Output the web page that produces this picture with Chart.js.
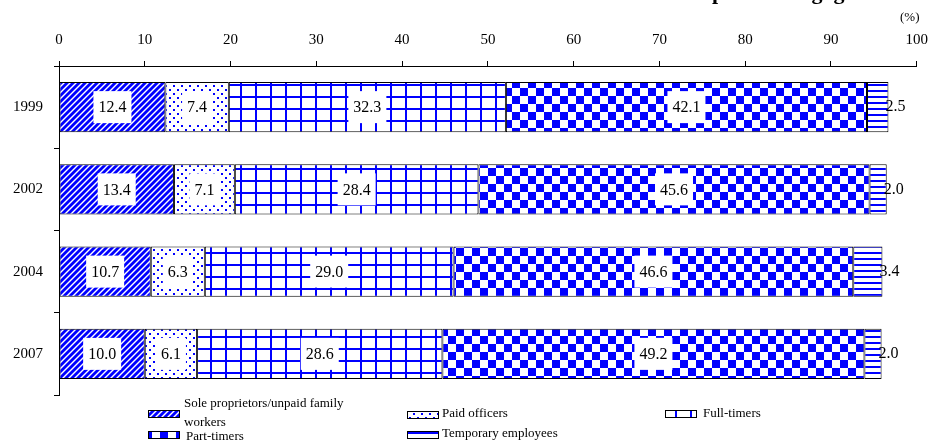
<!DOCTYPE html>
<html lang="en">
<head>
  <meta charset="UTF-8">
  <title>Persons engaged by status</title>
  <script src="https://cdn.jsdelivr.net/npm/chart.js"></script>
  <style>
    body { margin: 0; background: #fff; }
    #wrap { width: 940px; height: 443px; position: relative; }
  </style>
</head>
<body>
  <div id="wrap">
    <canvas id="chartCanvas" width="940" height="443"></canvas>
  </div>

  <script>
    // data (%)
    const years = ["1999", "2002", "2004", "2007"];
    const soleWorkers = [12.4, 13.4, 10.7, 10.0];
    const paidOfficers = [7.4, 7.1, 6.3, 6.1];
    const fullTimers = [32.3, 28.4, 29.0, 28.6];
    const partTimers = [42.1, 45.6, 46.6, 49.2];
    const tempEmployees = [2.5, 2.0, 3.4, 2.0];
    const seriesNames = ["Sole proprietors/unpaid family workers", "Paid officers", "Full-timers", "Part-timers", "Temporary employees"];

    const BLUE = "#0000ff";
    const SERIF = "'Liberation Serif', 'Times New Roman', serif";

    const canvas = document.getElementById("chartCanvas");
    const ctx = canvas.getContext("2d");

    // small tiles used as hatch fills
    function makePattern(w, h, draw) {
      const c = document.createElement("canvas");
      c.width = w; c.height = h;
      const g = c.getContext("2d");
      g.fillStyle = "#fff";
      g.fillRect(0, 0, w, h);
      g.fillStyle = BLUE;
      g.strokeStyle = BLUE;
      draw(g, w, h);
      return ctx.createPattern(c, "repeat");
    }

    const diagFill = makePattern(6, 6, (g, w, h) => {
      g.lineWidth = 2.8;
      for (let k = 0; k <= 2; k++) {
        g.beginPath();
        g.moveTo(k * w + 1, -1);
        g.lineTo(k * w - w - 1, h + 1);
        g.stroke();
      }
    });
    const dotFill = makePattern(8, 8, (g) => {
      g.fillRect(1, 1, 2, 2);
      g.fillRect(5, 5, 2, 2);
    });
    const gridFill = makePattern(15, 12, (g, w, h) => {
      g.fillRect(0, 0, 2, h);
      g.fillRect(0, 0, w, 2);
    });
    const checkFill = makePattern(16, 16, (g) => {
      g.fillRect(0, 0, 8, 8);
      g.fillRect(8, 8, 8, 8);
    });
    const lineFill = makePattern(6, 6, (g, w) => {
      g.fillRect(0, 0, w, 2);
    });
    const fills = [diagFill, dotFill, gridFill, checkFill, lineFill];

    // value boxes + extra texts
    const labelPlugin = {
      id: "labels",
      afterDatasetsDraw(chart) {
        const c = chart.ctx;
        c.save();
        c.font = "16px " + SERIF;
        c.textAlign = "center";
        c.textBaseline = "middle";
        chart.data.datasets.forEach((ds, di) => {
          const meta = chart.getDatasetMeta(di);
          meta.data.forEach((bar, i) => {
            const txt = ds.data[i].toFixed(1);
            if (di === 4) {
              c.fillStyle = "#000";
              c.fillText(txt, bar.x + 7, bar.y);
              return;
            }
            const cx = (bar.x + bar.base) / 2;
            const w = c.measureText(txt).width + 10;
            c.fillStyle = "#fff";
            c.fillRect(cx - w / 2, bar.y - 16, w, 32);
            c.fillStyle = "#000";
            c.fillText(txt, cx, bar.y + 1);
          });
        });
        c.restore();
      },
      afterDraw(chart) {
        const c = chart.ctx;
        c.save();
        // title is cut off at the top of the picture, only descenders show
        c.font = "bold 22px " + SERIF;
        c.textBaseline = "alphabetic";
        c.fillStyle = "#000";
        const pre = "Breakdown of ";
        c.fillText(pre + "persons engaged", 712 - c.measureText(pre).width, -1);

        c.font = "13px " + SERIF;
        c.textAlign = "left";
        c.textBaseline = "middle";
        c.fillText("(%)", 900, 18);

        // legend
        const items = [
          { f: 0, x: 148, y: 410, tx: 184, lines: [["Sole proprietors/unpaid family", 404], ["workers", 423]] },
          { f: 3, x: 148, y: 431, tx: 186, lines: [["Part-timers", 437]] },
          { f: 1, x: 407, y: 411, tx: 442, lines: [["Paid officers", 414]] },
          { f: 4, x: 407, y: 431, tx: 442, lines: [["Temporary employees", 434]] },
          { f: 2, x: 665, y: 410, tx: 703, lines: [["Full-timers", 414]] }
        ];
        items.forEach(it => {
          c.fillStyle = fills[it.f];
          c.fillRect(it.x, it.y, 31, 7);
          c.strokeStyle = "#000";
          c.lineWidth = 1;
          c.strokeRect(it.x + 0.5, it.y + 0.5, 31, 7);
          c.fillStyle = "#000";
          it.lines.forEach(l => c.fillText(l[0], it.tx, l[1]));
        });
        c.restore();
      }
    };

    const allSeries = [soleWorkers, paidOfficers, fullTimers, partTimers, tempEmployees];
    const datasets = allSeries.map((vals, i) => ({
      label: seriesNames[i],
      data: vals,
      backgroundColor: fills[i],
      borderColor: "#000",
      borderWidth: 1,
      borderSkipped: false,
      categoryPercentage: 1.0,
      barPercentage: 0.61
    }));

    new Chart(ctx, {
      type: "bar",
      data: { labels: years, datasets: datasets },
      plugins: [labelPlugin],
      options: {
        indexAxis: "y",
        responsive: false,
        animation: false,
        layout: { padding: { left: 0, right: 12, top: 0, bottom: 48 } },
        plugins: { legend: { display: false }, tooltip: { enabled: false } },
        scales: {
          x: {
            position: "top",
            stacked: true,
            min: 0,
            max: 100,
            afterFit(s) { s.height = 66; },
            border: { display: true, color: "#000", width: 1 },
            grid: { drawOnChartArea: false, color: "#000", tickLength: 5 },
            ticks: {
              stepSize: 10,
              padding: 12,
              color: "#000",
              font: { family: SERIF, size: 15 }
            }
          },
          y: {
            stacked: true,
            afterFit(s) { s.width = 59; },
            border: { display: true, color: "#000", width: 1 },
            grid: { offset: true, drawOnChartArea: false, color: "#000", tickLength: 5 },
            ticks: {
              padding: 11,
              color: "#000",
              font: { family: SERIF, size: 15 }
            }
          }
        }
      }
    });
  </script>
</body>
</html>
